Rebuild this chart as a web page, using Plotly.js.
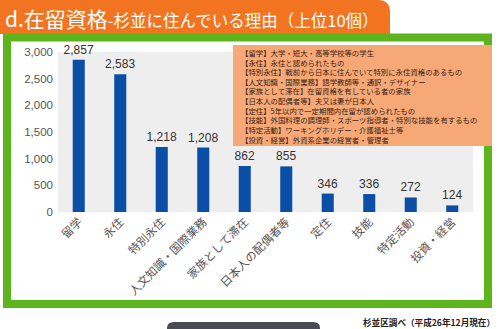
<!DOCTYPE html>
<html>
<head>
<meta charset="utf-8">
<script src="https://cdn.plot.ly/plotly-3.0.1.min.js"></script>
<style>html,body{margin:0;padding:0;background:#fff;}#chart{width:500px;height:329px;}</style>
</head>
<body>
<div id="chart"></div>
<script>
const categories = ["留学","永住","特別永住","人文知識・国際業務","家族として滞在","日本人の配偶者等","定住","技能","特定活動","投資・経営"];
const residents = [2857, 2583, 1218, 1208, 862, 855, 346, 336, 272, 124];
const yTicks = [0, 500, 1000, 1500, 2000, 2500, 3000];
const legendLines = [
  "【留学】大学・短大・高等学校等の学生",
  "【永住】永住と認められたもの",
  "【特別永住】戦前から日本に住んでいて特別に永住資格のあるもの",
  "【人文知識・国際業務】語学教師等・通訳・デザイナー",
  "【家族として滞在】在留資格を有している者の家族",
  "【日本人の配偶者等】夫又は妻が日本人",
  "【定住】5年以内で一定期間内在留が認められたもの",
  "【技能】外国料理の調理師・スポーツ指導者・特別な技能を有するもの",
  "【特定活動】ワーキングホリデー・介護福祉士等",
  "【投資・経営】外資系企業の経営者・管理者"
];
const titleMain = "d.在留資格";
const titleSub = "-杉並に住んでいる理由（上位10個）";
const sourceNote = "杉並区調べ（平成26年12月現在）";

const JP = "'Noto Sans CJK JP', 'Noto Sans', sans-serif";
const W = 500, H = 329;
const M = {l: 58, r: 27, t: 52, b: 117};
const PW = W - M.l - M.r, PH = H - M.t - M.b;
const px = x => (x - M.l) / PW;
const py = y => (H - M.b - y) / PH;

const trace = {
  type: "bar",
  x: categories,
  y: residents,
  marker: {color: "#0b4ea6"},
  text: residents.map(v => v.toLocaleString("en-US")),
  textposition: "outside",
  constraintext: "none",
  textfont: {family: "'Liberation Sans', Arial, sans-serif", size: 12, color: "#333"},
  cliponaxis: false,
  hoverinfo: "none"
};

const shapes = [
  {type: "path", xref: "paper", yref: "paper", layer: "below",
   path: `M ${px(0)},${py(34)} L ${px(0)},${py(0)} L ${px(378)},${py(0)} Q ${px(390)},${py(0)} ${px(390)},${py(12)} L ${px(390)},${py(34)} Z`,
   fillcolor: "#f27420", line: {width: 0}},
  {type: "rect", xref: "paper", yref: "paper", layer: "below",
   x0: px(7), x1: px(488), y0: py(304), y1: py(37.5),
   fillcolor: "rgba(0,0,0,0)", line: {color: "#5cb51c", width: 8}},
  {type: "rect", xref: "paper", yref: "paper", layer: "above",
   x0: px(233), x1: px(492), y0: py(146), y1: py(45),
   fillcolor: "#f6a977", line: {width: 0}},
  {type: "path", xref: "paper", yref: "paper", layer: "below",
   path: `M ${px(167)},${py(329)} L ${px(167)},${py(328)} Q ${px(167)},${py(322)} ${px(174)},${py(322)} L ${px(313)},${py(322)} Q ${px(320)},${py(322)} ${px(320)},${py(328)} L ${px(320)},${py(329)} Z`,
   fillcolor: "#4a4a55", line: {width: 0}}
];

const annotations = [
  {xref: "paper", yref: "paper", x: px(3), y: py(18), xanchor: "left", yanchor: "middle", showarrow: false,
   text: `<span style="font-size:21px">${titleMain}</span><span style="font-size:16.5px">${titleSub}</span>`,
   font: {family: JP, color: "#fff", size: 21}},
  {xref: "paper", yref: "paper", x: px(497), y: py(322), xanchor: "right", yanchor: "middle", showarrow: false,
   text: `<b>${sourceNote}</b>`, font: {family: JP, color: "#222", size: 8.6}},
  {xref: "paper", yref: "paper", x: px(240), y: py(95.5), xanchor: "left", yanchor: "middle", align: "left",
   showarrow: false, borderpad: 0, text: legendLines.join("<br>"),
   font: {family: JP, size: 7.4, color: "#3a2010"}}
];

const layout = {
  width: W, height: H,
  margin: {l: M.l, r: M.r, t: M.t, b: M.b, pad: 0},
  paper_bgcolor: "#fff",
  plot_bgcolor: "#eeeeee",
  showlegend: false,
  bargap: 0.71,
  xaxis: {
    type: "category",
    tickangle: -45,
    tickfont: {family: JP, size: 11.5, color: "#555"},
    showgrid: false, zeroline: false, showline: false, ticks: ""
  },
  yaxis: {
    range: [0, 3000],
    tickvals: yTicks,
    tickformat: ",d",
    tickfont: {family: "'Liberation Sans', Arial, sans-serif", size: 11.5, color: "#555"},
    showgrid: false, zeroline: false, showline: false, ticks: "",
    ticklabelstandoff: 4
  },
  shapes: shapes,
  annotations: annotations
};

Plotly.newPlot("chart", [trace], layout, {displayModeBar: false, staticPlot: true});
</script>
</body>
</html>
